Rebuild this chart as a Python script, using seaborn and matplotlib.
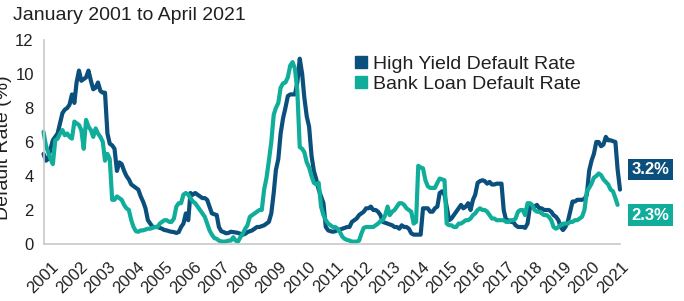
import pandas as pd
import seaborn as sns
import matplotlib.pyplot as plt
from matplotlib.lines import Line2D

series_names = ["High Yield Default Rate", "Bank Loan Default Rate"]
series_colors = ["#0b4f7d", "#10ad9a"]
subtitle = "January 2001 to April 2021"
y_label = "Default Rate (%)"
years = list(range(2001, 2022))

# monthly values, one row per year
hy_rate = [
    5.3, 4.9, 5.0, 5.6, 6.1, 6.3, 6.5, 7.1, 7.7, 7.9, 8.0, 8.2,       # 2001
    8.8, 8.3, 9.5, 10.2, 9.6, 9.7, 9.8, 10.2, 9.6, 9.1, 9.2, 9.5,     # 2002
    9.0, 8.9, 8.9, 6.5, 5.9, 5.8, 5.6, 4.3, 4.8, 4.7, 4.3, 4.0,       # 2003
    3.8, 3.5, 3.4, 3.3, 3.2, 2.8, 2.5, 2.1, 1.4, 1.2, 1.0, 1.0,       # 2004
    1.0, 0.95, 0.9, 0.82, 0.8, 0.75, 0.72, 0.7, 0.65, 0.7, 1.0, 1.2,  # 2005
    1.8, 1.4, 3.0, 2.9, 3.0, 2.9, 2.8, 2.7, 2.7, 2.6, 2.2, 1.8,       # 2006
    1.75, 1.7, 1.0, 0.75, 0.7, 0.63, 0.65, 0.72, 0.7, 0.68, 0.65, 0.6,  # 2007
    0.55, 0.6, 0.7, 0.75, 0.8, 0.9, 1.0, 1.0, 1.05, 1.1, 1.2, 1.3,    # 2008
    1.8, 3.0, 4.35, 5.0, 6.5, 7.4, 8.0, 8.7, 8.8, 8.8, 8.8, 9.5,      # 2009
    10.9, 10.0, 8.6, 7.5, 6.9, 5.2, 4.3, 3.8, 3.2, 2.8, 2.4, 1.0,     # 2010
    0.8, 0.75, 0.72, 0.75, 0.82, 0.85, 0.9, 0.95, 1.0, 1.0, 1.3, 1.4,  # 2011
    1.5, 1.7, 1.8, 1.9, 2.1, 2.1, 2.2, 2.0, 2.0, 1.9, 1.7, 1.3,       # 2012
    1.25, 1.2, 1.15, 1.1, 1.0, 1.0, 0.9, 1.1, 1.0, 1.0, 0.9, 0.63,    # 2013
    0.55, 0.55, 0.55, 0.55, 2.1, 2.1, 2.1, 1.9, 1.9, 2.1, 2.2, 3.0,   # 2014
    3.1, 2.9, 2.2, 1.4, 1.5, 1.7, 1.9, 2.1, 2.3, 2.1, 2.2, 2.4,       # 2015
    2.0, 2.6, 2.9, 3.6, 3.7, 3.75, 3.7, 3.55, 3.65, 3.5, 3.5, 3.55,   # 2016
    3.55, 3.55, 2.0, 1.4, 1.4, 1.3, 1.3, 1.1, 1.0, 1.0, 1.0, 0.95,    # 2017
    1.2, 2.2, 2.2, 2.2, 2.3, 2.1, 2.1, 2.0, 2.0, 2.0, 1.9, 1.7,       # 2018
    1.6, 1.4, 1.0, 0.82, 1.0, 1.3, 1.9, 2.5, 2.5, 2.6, 2.6, 2.6,      # 2019
    2.65, 2.9, 4.3, 4.9, 5.3, 6.0, 6.0, 5.75, 5.85, 6.3, 6.1, 6.1,    # 2020
    6.05, 6.0, 4.4, 3.2,                                              # 2021
]

bl_rate = [
    6.6, 5.8, 5.4, 5.0, 4.7, 6.1, 6.2, 6.5, 6.7, 6.4, 6.5, 6.3,       # 2001
    6.2, 7.2, 7.1, 7.0, 6.7, 5.6, 7.3, 6.9, 6.7, 6.3, 6.8, 6.5,       # 2002
    6.3, 6.0, 4.9, 5.3, 5.0, 2.6, 2.6, 2.8, 2.7, 2.6, 2.3, 2.1,       # 2003
    2.0, 1.4, 1.0, 0.75, 0.72, 0.8, 0.8, 0.85, 0.9, 0.9, 0.95, 1.0,   # 2004
    1.0, 1.2, 1.3, 1.4, 1.4, 1.3, 1.3, 1.5, 2.2, 2.4, 2.4, 2.9,       # 2005
    3.0, 2.9, 2.7, 2.5, 2.4, 2.2, 2.0, 1.8, 1.6, 1.2, 0.8, 0.55,      # 2006
    0.35, 0.3, 0.2, 0.15, 0.14, 0.15, 0.2, 0.2, 0.4, 0.2, 0.14, 0.4,  # 2007
    0.6, 0.9, 1.1, 1.6, 1.7, 1.8, 1.9, 2.0, 2.0, 3.2, 3.9, 4.9,       # 2008
    6.0, 7.6, 8.0, 8.3, 9.2, 9.45, 9.5, 9.8, 10.5, 10.7, 10.3, 9.0,   # 2009
    5.7, 5.6, 5.4, 4.8, 4.5, 4.0, 3.6, 3.5, 3.6, 2.2, 1.7, 1.4,       # 2010
    1.2, 1.1, 1.0, 1.0, 0.9, 0.7, 0.43, 0.3, 0.24, 0.2, 0.14, 0.14,   # 2011
    0.14, 0.2, 0.6, 0.95, 1.0, 1.0, 1.0, 1.0, 1.1, 1.2, 1.35, 1.4,    # 2012
    1.7, 2.2, 1.7, 1.9, 2.0, 2.2, 2.4, 2.4, 2.3, 2.1, 2.0, 1.9,       # 2013
    1.2, 1.3, 4.6, 4.5, 4.45, 3.75, 3.4, 3.3, 3.3, 3.3, 3.6, 3.85,    # 2014
    3.8, 3.75, 1.2, 1.1, 1.1, 1.0, 1.0, 1.2, 1.2, 1.3, 1.4, 1.4,      # 2015
    1.5, 1.7, 1.8, 2.0, 2.1, 2.0, 2.0, 1.9, 1.7, 1.5, 1.5, 1.4,       # 2016
    1.4, 1.4, 1.4, 1.3, 1.3, 1.4, 1.4, 1.5, 1.9, 2.0, 2.0, 1.7,       # 2017
    2.4, 2.4, 2.3, 2.0, 1.9, 1.9, 1.8, 1.7, 1.7, 1.6, 1.4, 1.0,       # 2018
    0.9, 1.0, 1.1, 1.2, 1.2, 1.2, 1.3, 1.3, 1.4, 1.4, 1.5, 1.6,       # 2019
    2.0, 3.1, 3.3, 3.55, 3.9, 4.0, 4.15, 4.05, 3.8, 3.65, 3.5, 3.2,   # 2020
    3.1, 2.7, 2.3,                                                    # 2021
]

hy = pd.DataFrame({"date": pd.date_range("2001-01-01", periods=len(hy_rate), freq="MS"),
                   "rate": hy_rate, "series": series_names[0]})
bl = pd.DataFrame({"date": pd.date_range("2001-01-01", periods=len(bl_rate), freq="MS"),
                   "rate": bl_rate, "series": series_names[1]})
df = pd.concat([hy, bl], ignore_index=True)

sns.set_style("white")
plt.rcParams["font.family"] = ["Liberation Sans", "DejaVu Sans"]
text_color = "#231f20"
grey = "#c8c8c8"

W, H = 684, 301
fig = plt.figure(figsize=(W / 100, H / 100), dpi=100)
ax = fig.add_axes([43.5 / W, 1 - 244 / H, (620 - 43.5) / W, (244 - 40) / H])

sns.lineplot(data=df, x="date", y="rate", hue="series",
             palette=dict(zip(series_names, series_colors)),
             linewidth=3, legend=False, ax=ax)
for line in ax.lines:
    line.set_clip_on(False)

ax.set_xlim(pd.Timestamp("2001-01-01"), pd.Timestamp("2021-04-01"))
ax.set_xticks([pd.Timestamp(f"{y}-01-01") for y in years])
ax.set_xticklabels([str(y) for y in years], rotation=45, ha="center")
ax.tick_params(axis="x", length=0, pad=11, labelsize=12, labelcolor=text_color)

ax.set_ylim(0, 12)
ax.set_yticks(range(0, 13, 2))
ax.tick_params(axis="y", direction="in", length=10, width=1, color=grey,
               pad=7, labelsize=12, labelcolor=text_color)
ax.set_xlabel("")
ax.set_ylabel("")

sns.despine(ax=ax)
for side in ["left", "bottom"]:
    ax.spines[side].set_color(grey)
    ax.spines[side].set_linewidth(1.2)

fig.text(12.5 / W, 1 - 148 / H, y_label, rotation=90, ha="right", va="center",
         fontsize=14, color=text_color)
fig.text(13 / W, 1 - 20.5 / H, subtitle, fontsize=14, va="baseline", color=text_color)

handles = [Line2D([], [], marker="s", ls="", color=c, markersize=8.6) for c in series_colors]
ax.legend(handles, series_names, loc="upper left", bbox_to_anchor=(351 / W, 1 - 55 / H),
          bbox_transform=fig.transFigure, frameon=False, fontsize=14,
          handletextpad=0.15, labelspacing=0.15, borderaxespad=0, borderpad=0,
          handlelength=1.0, labelcolor=text_color)

# end-of-series value tags
fig.text(650.5 / W, 1 - 169.5 / H, f"{hy_rate[-1]:.1f}%", ha="center", va="center",
         color="white", fontweight="bold", fontsize=12,
         bbox=dict(boxstyle="square,pad=0.2", fc=series_colors[0], ec="none"))
fig.text(650.5 / W, 1 - 215 / H, f"{bl_rate[-1]:.1f}%", ha="center", va="center",
         color="white", fontweight="bold", fontsize=12,
         bbox=dict(boxstyle="square,pad=0.2", fc=series_colors[1], ec="none"))

fig.savefig("out.png", dpi=100)
